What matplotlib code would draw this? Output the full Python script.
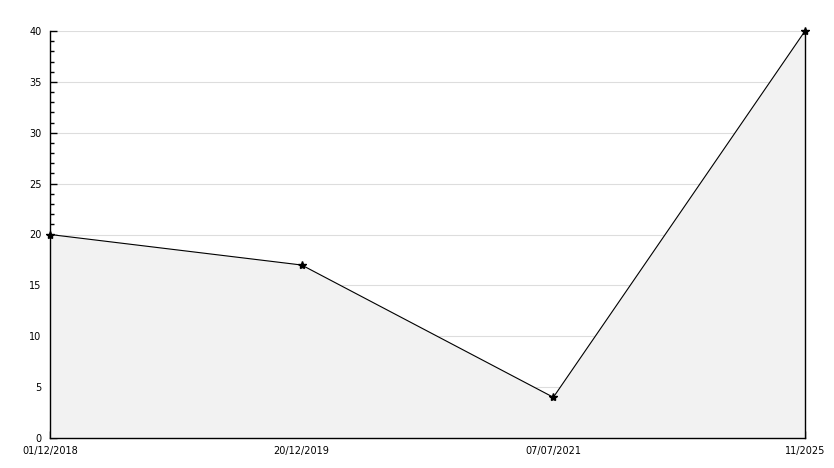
import matplotlib.pyplot as plt
from matplotlib.ticker import MultipleLocator

labels = ['01/12/2018', '20/12/2019', '07/07/2021', '11/2025']
values = [20, 17, 4, 40]

fig = plt.figure(figsize=(8.34, 4.68), dpi=100)
ax = fig.add_axes([50 / 834, 30 / 468, 755 / 834, 407 / 468])

x = list(range(len(values)))
ax.fill_between(x, values, 0, color='#f2f2f2', zorder=1)
ax.plot([x[-1], x[-1]], [0, values[-1]], color='black', lw=1, zorder=2, clip_on=False)
ax.plot(x, values, color='black', lw=0.8, zorder=3, clip_on=False)
ax.plot(x, values, ls='none', marker='*', ms=6, color='black', zorder=4, clip_on=False)

ax.set_xlim(0, len(values) - 1)
ax.set_ylim(0, 40)
ax.yaxis.set_major_locator(MultipleLocator(5))
ax.yaxis.set_minor_locator(MultipleLocator(1))
ax.grid(axis='y', color='#dddddd', lw=0.8, zorder=0)
ax.set_axisbelow(True)

ax.set_xticks(x)
ax.set_xticklabels(labels)
ax.tick_params(axis='x', direction='in', length=5, width=1, labelsize=7, pad=6)
ax.tick_params(axis='y', which='major', direction='in', length=5, width=1, labelsize=7, pad=6)
ax.tick_params(axis='y', which='minor', direction='in', length=3, width=1)

for s in ['top', 'right']:
    ax.spines[s].set_visible(False)
for s in ['left', 'bottom']:
    ax.spines[s].set_linewidth(1)

fig.savefig('out.png', dpi=100)
